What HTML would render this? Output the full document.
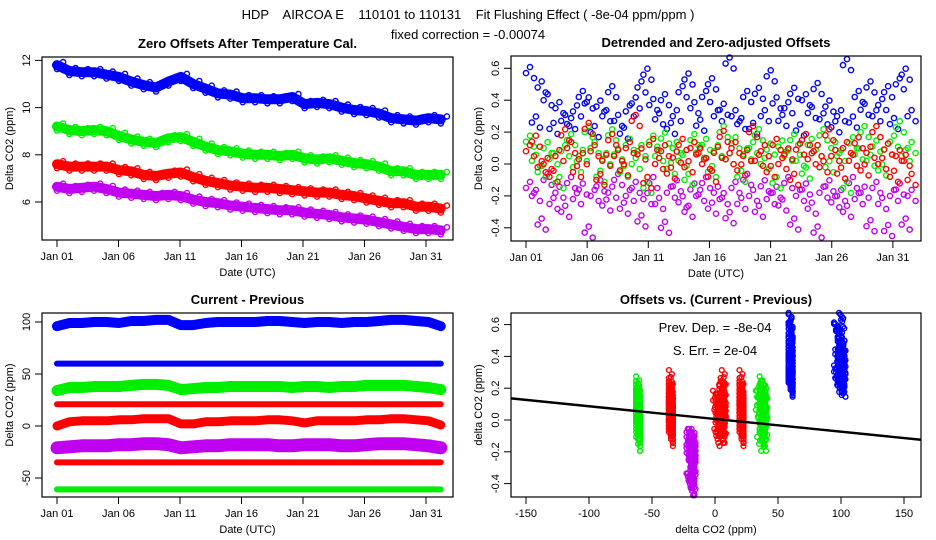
<!DOCTYPE html>
<html><head><meta charset="utf-8"><style>
body{margin:0;background:#fff}
svg{display:block;font-family:"Liberation Sans",Arial,sans-serif}
</style></head><body>
<svg id="s" width="936" height="540" viewBox="0 0 936 540">
<text x="468" y="19" text-anchor="middle" font-size="13" xml:space="preserve">HDP    AIRCOA E    110101 to 110131    Fit Flushing Effect ( -8e-04 ppm/ppm )</text>
<text x="468" y="39" text-anchor="middle" font-size="13">fixed correction = -0.00074</text>
</svg>
<script>
// ---- Panel 1 data (daily, Jan 01 = day 0) ----
const p1Blue=[11.8,11.55,11.5,11.5,11.4,11.3,11.1,10.95,10.85,11.1,11.3,11.0,10.8,10.6,10.55,10.4,10.4,10.35,10.35,10.45,10.15,10.2,10.15,10.0,9.9,9.85,9.75,9.55,9.5,9.45,9.55,9.5];
const p1Green=[9.2,9.05,9.0,9.05,9.0,8.8,8.65,8.55,8.5,8.7,8.75,8.55,8.35,8.2,8.15,8.05,8.0,8.0,7.95,8.0,7.85,7.8,7.85,7.75,7.65,7.6,7.5,7.3,7.3,7.15,7.15,7.15];
const p1Red=[7.6,7.5,7.5,7.5,7.5,7.35,7.3,7.15,7.1,7.2,7.25,7.05,6.9,6.8,6.7,6.65,6.6,6.6,6.55,6.5,6.45,6.4,6.4,6.3,6.25,6.15,6.05,5.95,5.95,5.8,5.8,5.72];
const p1Purple=[6.65,6.55,6.6,6.65,6.55,6.4,6.35,6.3,6.25,6.3,6.25,6.1,6.0,5.95,5.85,5.8,5.75,5.7,5.65,5.65,5.55,5.5,5.45,5.35,5.3,5.25,5.15,5.05,4.95,4.85,4.85,4.8];
const p1YTicks=[6,8,10,12];
const dateTicks=[0,5,10,15,20,25,30];
const dateLabels=["Jan 01","Jan 06","Jan 11","Jan 16","Jan 21","Jan 26","Jan 31"];
// ---- Panel 2 data (detrended offsets, half-day samples) ----
const p2Blue=[0.57,0.26,0.48,0.40,0.22,0.35,0.27,0.25,0.33,0.42,0.38,0.20,0.36,0.30,0.45,0.27,0.19,0.33,0.38,0.48,0.56,0.37,0.28,0.40,0.22,0.30,0.45,0.53,0.35,0.24,0.42,0.50,0.30,0.34,0.63,0.30,0.25,0.42,0.22,0.44,0.30,0.55,0.38,0.27,0.35,0.44,0.21,0.40,0.32,0.47,0.28,0.36,0.23,0.30,0.62,0.26,0.42,0.34,0.48,0.30,0.37,0.45,0.25,0.50,0.56,0.30];
const p2Green=[0.14,0.02,-0.05,0.10,0.03,-0.12,0.08,0.15,-0.02,0.05,0.20,0.10,-0.08,0.03,0.18,0.06,-0.05,0.12,0.00,0.08,-0.15,0.14,0.05,0.16,-0.03,0.10,0.02,-0.10,0.15,0.07,0.12,-0.05,0.08,0.20,0.03,0.13,-0.08,0.06,0.10,0.18,0.00,0.09,-0.12,0.11,0.05,0.15,0.02,-0.06,0.12,0.08,0.18,-0.02,0.10,0.05,-0.15,0.13,0.06,0.20,0.02,0.11,-0.04,0.09,0.14,0.23,0.05,0.10];
const p2Red=[0.08,0.14,-0.02,0.00,-0.08,0.05,0.18,0.10,-0.05,0.03,0.22,0.08,-0.10,0.02,0.15,0.05,-0.04,0.10,0.27,0.06,-0.12,0.12,0.00,0.08,-0.06,0.04,0.12,-0.02,0.10,0.06,0.00,-0.08,0.07,0.17,0.03,0.10,-0.04,0.05,0.20,0.02,0.08,-0.05,0.12,0.00,0.06,-0.10,0.09,0.15,0.03,0.08,-0.02,0.18,0.05,-0.06,0.10,0.02,0.13,-0.04,0.07,0.20,0.00,0.09,-0.08,0.05,0.02,-0.10];
const p2Purple=[-0.15,-0.20,-0.38,-0.10,-0.25,-0.18,-0.30,-0.12,-0.22,-0.16,-0.43,-0.20,-0.14,-0.26,-0.18,-0.10,-0.28,-0.20,-0.15,-0.36,-0.22,-0.12,-0.25,-0.40,-0.18,-0.14,-0.24,-0.30,-0.16,-0.20,-0.12,-0.28,-0.18,-0.22,-0.34,-0.15,-0.25,-0.10,-0.20,-0.30,-0.14,-0.22,-0.18,-0.26,-0.12,-0.38,-0.20,-0.16,-0.28,-0.43,-0.18,-0.14,-0.24,-0.20,-0.30,-0.12,-0.22,-0.18,-0.39,-0.15,-0.25,-0.42,-0.20,-0.16,-0.38,-0.20];
const p2YTicks=[-0.4,-0.2,0.0,0.2,0.4,0.6];
const p2YLabels=["-0.4","-0.2","0.0","0.2","0.4","0.6"];
// ---- Panel 3 data (current - previous, daily) ----
const p3Blue100=[96,99,99,100,100,99,101,101,102,102,97,97,99,100,100,100,100,101,101,100,99,100,100,99,100,100,101,102,102,101,100,96];
const p3Blue60=[60,60,60,60,60,60,60,60,60,60,60,60,60,60,60,60,60,60,60,60,60,60,60,60,60,60,60,60,60,60,60,60];
const p3Green37=[34,37,37,38,38,38,39,40,40,39,35,36,37,37,38,38,38,38,38,37,38,38,37,38,38,39,39,39,39,38,37,35];
const p3Red21=[21,21,21,21,21,21,21,21,21,21,21,21,21,21,21,21,21,21,21,21,21,21,21,21,21,21,21,21,21,21,21,21];
const p3Red5=[0,4,5,5,5,6,6,7,7,7,2,2,4,4,5,5,5,6,6,5,3,5,5,5,5,6,6,7,7,6,5,1];
const p3Purple=[-21,-20,-19,-19,-19,-18,-18,-17,-17,-18,-21,-20,-19,-19,-18,-18,-18,-18,-19,-19,-18,-18,-18,-19,-19,-18,-17,-17,-17,-18,-19,-21];
const p3RedM35=[-35,-35,-35,-35,-35,-35,-35,-35,-35,-35,-35,-35,-35,-35,-35,-35,-35,-35,-35,-35,-35,-35,-35,-35,-35,-35,-35,-35,-35,-35,-35,-35];
const p3GreenM61=[-61,-61,-61,-61,-61,-61,-61,-61,-61,-61,-61,-61,-61,-61,-61,-61,-61,-61,-61,-61,-61,-61,-61,-61,-61,-61,-61,-61,-61,-61,-61,-61];
const p3YTicks=[-50,0,50,100];
// ---- Panel 4 ----
const p4XTicks=[-150,-100,-50,0,50,100,150];
const p4Slope=-0.0008, p4Intercept=0.004;

const BLUE="#0000ff",GREEN="#00ee00",RED="#ff0000",PURPLE="#c000f0";
const NS="http://www.w3.org/2000/svg";
const svg=document.getElementById('s');
function mk(tag,attrs,parent){const e=document.createElementNS(NS,tag);for(const k in attrs)e.setAttribute(k,attrs[k]);(parent||svg).appendChild(e);return e;}
function txt(s,attrs,parent){const e=mk('text',attrs,parent);e.textContent=s;return e;}

const dayMax=31.2;
const x1=d=>57+d*12.3, y1=v=>202-(v-6)*23.6;
const x2=d=>526+d*12.23, y2=v=>164-v*159.5;
const x3=x1, y3=v=>426-v*1.04;
const x4=v=>715+v*1.26, y4=v=>420-v*159;
const dayOf=(i,n)=>i*dayMax/(n-1);
// marker-cluster glyph offsets (pixel styling of a single plotted value)
const clusterH=[[0,0],[4,-6],[8,5]];
const clusterV=[[0,0],[-2,-7],[2,7],[1,-3]];

function frame(name,L,T,R,B,title,xlab,ylab){
  const g=mk('g',{});
  
  
  const t=txt(title,{x:(L+R)/2,y:T-9,'text-anchor':'middle','font-size':13,'font-weight':'bold'},g);
  
  
  const xl=txt(xlab,{x:(L+R)/2,y:B+36,'text-anchor':'middle','font-size':11},g);
  
  
  const yl=txt(ylab,{x:0,y:0,'text-anchor':'middle','font-size':11,transform:`translate(${L-29},${(T+B)/2}) rotate(-90)`},g);
  
  
  return g;
}
function box(g,L,T,R,B){
  const r=mk('rect',{x:L,y:T,width:R-L,height:B-T,fill:'none',stroke:'#000','stroke-width':1.2},g);
  
  
}
function xAxis(g,B,vals,labels,xf){
  const ax=mk('g',{},g);
  
  
  vals.forEach((v,i)=>{
    mk('line',{x1:xf(v),x2:xf(v),y1:B,y2:B+7,stroke:'#000'},ax);
    const t=txt(labels[i],{x:xf(v),y:B+20,'text-anchor':'middle','font-size':11},ax);
    
    
  });
}
function yAxis(g,L,vals,labels,yf){
  const ax=mk('g',{},g);
  
  
  vals.forEach((v,i)=>{
    mk('line',{x1:L-7,x2:L,y1:yf(v),y2:yf(v),stroke:'#000'},ax);
    const t=txt(labels[i],{x:0,y:0,'text-anchor':'middle','font-size':11,transform:`translate(${L-12},${yf(v)}) rotate(-90)`},ax);
    
    
  });
}
function band(g,arr,xf,yf,col,w,name){
  const pts=arr.map((v,i)=>xf(dayOf(i,arr.length)).toFixed(1)+','+yf(v).toFixed(1)).join(' ');
  const p=mk('polyline',{points:pts,fill:'none',stroke:col,'stroke-width':w,'stroke-linejoin':'round','stroke-linecap':'round'},g);
  
  
}
function dots(g,xs,ys,col,name,r,cluster){
  const gg=mk('g',{},g);
  
  
  const cl=cluster||[[0,0]];
  xs.forEach((x,i)=>{
    cl.forEach(([dx,dy])=>{
      const c=mk('circle',{cx:(x+dx).toFixed(1),cy:(ys[i]+dy).toFixed(1),r:r||2.6,fill:'none',stroke:col,'stroke-width':1.4},gg);
      
      
    });
  });
}
function series1(g,arr,xf,yf,col,w,name){
  band(g,arr,xf,yf,col,w,name+'-band');
  dots(g,arr.map((v,i)=>xf(dayOf(i,arr.length))),arr.map(v=>yf(v)+4),col,name+'-points-low');
  dots(g,arr.map((v,i)=>xf(dayOf(i,arr.length)+0.5)),arr.map(v=>yf(v)-3),col,name+'-points-high');
}

// ---- Panel 1 ----
{const L=42,T=57,R=453,B=240;
const g=frame('panel-zero-offsets',L,T,R,B,'Zero Offsets After Temperature Cal.','Date (UTC)','Delta CO2 (ppm)');
series1(g,p1Blue,x1,y1,BLUE,10,'series-blue');
series1(g,p1Green,x1,y1,GREEN,10,'series-green');
series1(g,p1Red,x1,y1,RED,10,'series-red');
series1(g,p1Purple,x1,y1,PURPLE,10,'series-purple');
box(g,L,T,R,B);xAxis(g,B,dateTicks,dateLabels,x1);yAxis(g,L,p1YTicks,p1YTicks.map(String),y1);}

// ---- Panel 2 ----
{const L=511,T=56,R=921,B=241;
const g=frame('panel-detrended',L,T,R,B,'Detrended and Zero-adjusted Offsets','Date (UTC)','Delta CO2 (ppm)');
[[p2Blue,BLUE,'series-blue'],[p2Purple,PURPLE,'series-purple'],[p2Green,GREEN,'series-green'],[p2Red,RED,'series-red']].forEach(([a,c,n])=>{
  dots(g,a.map((v,i)=>x2(dayOf(i,a.length))),a.map(v=>y2(v)),c,n,2.6,clusterH);
});
box(g,L,T,R,B);xAxis(g,B,dateTicks,dateLabels,x2);yAxis(g,L,p2YTicks,p2YLabels,y2);}

// ---- Panel 3 ----
{const L=42,T=313,R=453,B=497;
const g=frame('panel-current-previous',L,T,R,B,'Current - Previous','Date (UTC)','Delta CO2 (ppm)');
[[p3Blue100,BLUE,10,'series-blue-100'],[p3Blue60,BLUE,6,'series-blue-60'],[p3Green37,GREEN,11,'series-green-37'],[p3Red21,RED,6,'series-red-21'],[p3Red5,RED,9,'series-red-5'],[p3Purple,PURPLE,13,'series-purple'],[p3RedM35,RED,6,'series-red-m35'],[p3GreenM61,GREEN,6,'series-green-m61']].forEach(([a,c,w,n])=>{
  band(g,a,x3,y3,c,w,n);
});
box(g,L,T,R,B);xAxis(g,B,dateTicks,dateLabels,x3);yAxis(g,L,p3YTicks,p3YTicks.map(String),y3);}

// ---- Panel 4 ----
{const L=511,T=313,R=921,B=497;
const g=frame('panel-offsets-vs-diff',L,T,R,B,'Offsets vs. (Current - Previous)','delta CO2 (ppm)','delta CO2 (ppm)');
const cols=[[p3GreenM61,p2Green,GREEN,'col-green-m61'],[p3RedM35,p2Red,RED,'col-red-m35'],[p3Purple,p2Purple,PURPLE,'col-purple'],[p3Red5,p2Red,RED,'col-red-5'],[p3Red21,p2Red,RED,'col-red-21'],[p3Green37,p2Green,GREEN,'col-green-37'],[p3Blue60,p2Blue,BLUE,'col-blue-60'],[p3Blue100,p2Blue,BLUE,'col-blue-100']];
cols.forEach(([xa,ya,c,n])=>{
  const xs=ya.map((v,i)=>x4(xa[Math.min(xa.length-1,Math.round(i*(xa.length-1)/(ya.length-1)))]));
  dots(g,xs,ya.map(v=>y4(v)),c,n,2.4,clusterV);
});
const cp=mk('clipPath',{id:'c4'},g);mk('rect',{x:L,y:T,width:R-L,height:B-T},cp);
[0,0.005].forEach(off=>{
  const ln=mk('line',{x1:L,x2:R,y1:y4(p4Intercept+off+p4Slope*((L-715)/1.26)),y2:y4(p4Intercept+off+p4Slope*((R-715)/1.26)),stroke:'#000','stroke-width':1.6,'clip-path':'url(#c4)'},g);
  
  
});
const a=txt('Prev. Dep. =  -8e-04',{x:715,y:332,'text-anchor':'middle','font-size':13,'xml:space':'preserve'},g);


const b=txt('S. Err. =  2e-04',{x:715,y:355,'text-anchor':'middle','font-size':13},g);


box(g,L,T,R,B);xAxis(g,B,p4XTicks,p4XTicks.map(String),x4);yAxis(g,L,p2YTicks,p2YLabels,y4);}
</script>
</body></html>
